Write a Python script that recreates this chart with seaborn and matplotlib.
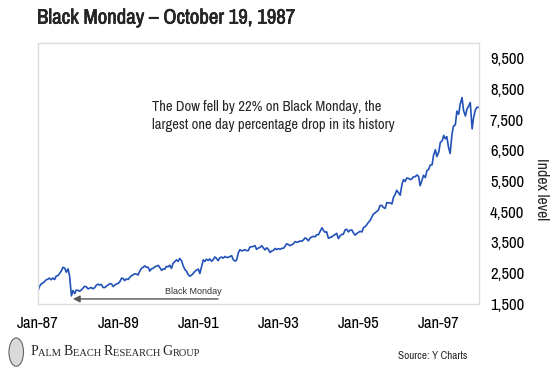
import matplotlib
matplotlib.use("Agg")
import matplotlib.pyplot as plt
import matplotlib.patheffects as pe
from matplotlib import font_manager
from matplotlib.patches import Ellipse
import pandas as pd
import seaborn as sns

dow_1987 = [1927, 2076, 2158, 2183, 2224, 2281, 2305, 2338, 2286, 2342, 2292, 2407,
            2419, 2482, 2572, 2691, 2663, 2530, 2640, 2412, 1760, 1935, 1834, 1950]
dow_1988 = [1939, 1911, 1958, 2014, 2072, 2059, 1988, 2014, 2032, 1990, 2031, 2110,
            2142, 2112, 2129, 2034, 2032, 2080, 2113, 2160, 2149, 2064, 2115, 2150]
dow_1989 = [2169, 2218, 2342, 2320, 2258, 2310, 2294, 2360, 2419, 2440, 2480, 2470,
            2440, 2560, 2661, 2690, 2737, 2690, 2693, 2569, 2645, 2655, 2706, 2730]
dow_1990 = [2753, 2679, 2591, 2640, 2627, 2720, 2707, 2760, 2657, 2820, 2877, 2935,
            2881, 2980, 2905, 2748, 2615, 2565, 2453, 2400, 2442, 2490, 2560, 2600]
dow_1991 = [2634, 2490, 2737, 2935, 2882, 2955, 2914, 2965, 2888, 2930, 3028, 2985,
            2907, 3000, 3025, 2990, 3044, 3010, 3017, 3040, 3069, 2943, 2895, 2915]
dow_1992 = [3169, 3264, 3224, 3246, 3267, 3235, 3236, 3353, 3359, 3370, 3397, 3275,
            3319, 3335, 3394, 3328, 3257, 3327, 3272, 3175, 3226, 3240, 3306, 3270]
dow_1993 = [3301, 3275, 3310, 3310, 3371, 3455, 3435, 3395, 3428, 3450, 3527, 3510,
            3516, 3550, 3540, 3580, 3651, 3615, 3555, 3640, 3681, 3700, 3684, 3755]
dow_1994 = [3754, 3860, 3978, 3890, 3832, 3850, 3636, 3660, 3682, 3720, 3758, 3800,
            3625, 3710, 3765, 3770, 3913, 3930, 3843, 3900, 3908, 3810, 3739, 3790]
dow_1995 = [3834, 3860, 3844, 3990, 4011, 4070, 4158, 4210, 4321, 4420, 4465, 4510,
            4556, 4700, 4709, 4640, 4611, 4800, 4789, 4790, 4756, 4970, 5075, 5200]
dow_1996 = [5117, 5040, 5395, 5550, 5486, 5600, 5588, 5550, 5569, 5640, 5643, 5700,
            5655, 5350, 5529, 5690, 5616, 5840, 5882, 6020, 6029, 6350, 6522, 6300]
dow_1997 = [6448, 6760, 6813, 6990, 6878, 6950, 6584, 6400, 7009, 7290, 7331, 7780,
            7673, 8000, 8223, 7800, 7622, 7850, 7945, 8060, 7200, 7580, 7823, 7900,
            7908]

dow = (dow_1987 + dow_1988 + dow_1989 + dow_1990 + dow_1991 + dow_1992
       + dow_1993 + dow_1994 + dow_1995 + dow_1996 + dow_1997)
dates = pd.date_range("1987-01-01", periods=len(dow), freq="SMS")
df = pd.DataFrame({"date": dates, "dow": dow})

tick_years = ["1987", "1989", "1991", "1993", "1995", "1997"]
tick_labels = ["Jan-87", "Jan-89", "Jan-91", "Jan-93", "Jan-95", "Jan-97"]
y_ticks = [1500, 2500, 3500, 4500, 5500, 6500, 7500, 8500, 9500]

# pick a narrow sans if there is one installed
installed = set(f.name for f in font_manager.fontManager.ttflist)
candidates = ["Arial Narrow", "Liberation Sans Narrow", "Archivo Narrow",
              "PT Sans Narrow", "Roboto Condensed", "Pragati Narrow",
              "Liberation Sans"]
narrow = [c for c in candidates if c in installed][:1] + ["DejaVu Sans"]

sns.set_style("white")
plt.rcParams["font.family"] = narrow

fig = plt.figure(figsize=(5.6, 3.77), dpi=100, facecolor="white")
ax = fig.add_axes([0.068, 0.194, 0.787, 0.692])

sns.lineplot(data=df, x="date", y="dow", ax=ax, color="#2252b8", linewidth=1.2)

ax.set_xlim(pd.Timestamp("1987-01-01"), pd.Timestamp("1998-01-01"))
ax.set_ylim(1500, 10000)
ax.set_xticks([pd.Timestamp(y + "-01-01") for y in tick_years])
ax.set_xticklabels(tick_labels, fontsize=12)
ax.set_yticks(y_ticks)
ax.set_yticklabels([f"{v:,}" for v in y_ticks], fontsize=12)
ax.yaxis.tick_right()
ax.yaxis.set_label_position("right")
ax.tick_params(axis="both", length=0, colors="black")
ax.tick_params(axis="y", pad=8)
ax.tick_params(axis="x", pad=9)
ax.set_xlabel("")
ax.set_ylabel("Index level", fontsize=11.5, rotation=270, va="center")
ax.yaxis.set_label_coords(1.143, 0.44)

for s in ax.spines.values():
    s.set_color("#dcdcdc")
    s.set_linewidth(1.0)

# annotation
ax.text(pd.Timestamp("1989-11-01"), 8150,
        "The Dow fell by 22% on Black Monday, the\nlargest one day percentage drop in its history",
        fontsize=10.5, va="top", ha="left", linespacing=1.4)

ax.annotate("", xy=(pd.Timestamp("1987-11-15"), 1660),
            xytext=(pd.Timestamp("1991-07-01"), 1660),
            arrowprops=dict(arrowstyle="-|>", color="#555555", lw=1.0,
                            mutation_scale=10, shrinkA=0, shrinkB=0,
                            facecolor="black"))
ax.text(pd.Timestamp("1990-11-15"), 1900, "Black Monday", fontsize=6.5,
        ha="center", va="center", color="#333333",
        family=["Liberation Sans", "DejaVu Sans"])

fig.text(0.066, 0.952, "Black Monday \u2013 October 19, 1987", fontsize=15,
         fontweight="bold", ha="left", va="center",
         path_effects=[pe.withStroke(linewidth=0.4, foreground="black")])

# footer
fig.patches.append(Ellipse((0.029, 0.066), 0.026, 0.075, transform=fig.transFigure,
                           facecolor="#dadada", edgecolor="#666666", lw=0.8))
serif = ["Liberation Serif", "DejaVu Serif"]
pieces = [("P", 10), ("ALM ", 7.5), ("B", 10), ("EACH ", 7.5), ("R", 10),
          ("ESEARCH ", 7.5), ("G", 10), ("ROUP", 7.5)]
chain = fig.text(0.054, 0.05, pieces[0][0], fontsize=pieces[0][1], family=serif,
                 ha="left", va="bottom", color="#222222")
for txt, size in pieces[1:]:
    chain = ax.annotate(txt, xy=(1, 0), xycoords=chain, fontsize=size, family=serif,
                        ha="left", va="bottom", color="#222222",
                        annotation_clip=False)

fig.text(0.711, 0.057, "Source: Y Charts", fontsize=8, ha="left", va="center")

fig.savefig("out.png", dpi=100, facecolor="white")
